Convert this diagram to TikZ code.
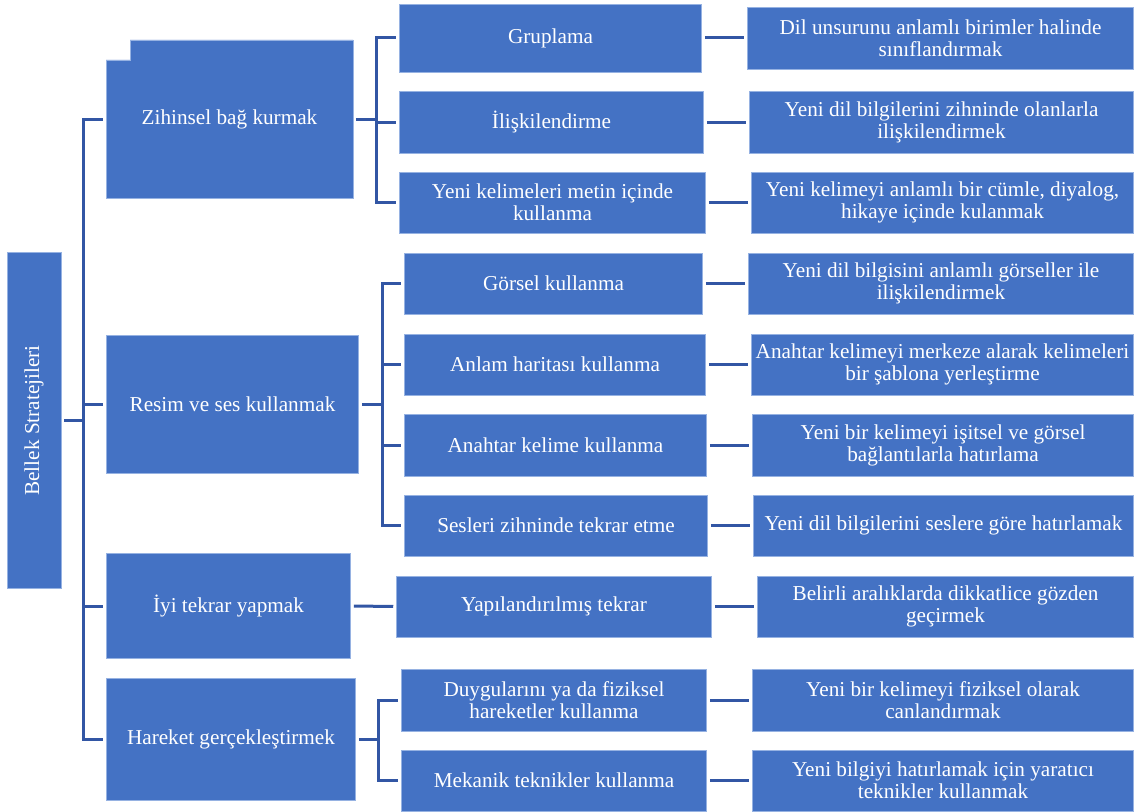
\documentclass[tikz,border=0pt]{standalone}
\usepackage{fontspec}
\usepackage{graphicx}
\setmainfont{Liberation Serif}
\definecolor{boxfill}{HTML}{4472C4}
\definecolor{boxline}{RGB}{150,178,226}
\definecolor{connc}{RGB}{50,86,164}
\tikzset{
  box/.style={fill=boxfill, draw=boxline, line width=0.7bp, text=white,
    font=\fontsize{21.3}{22}\selectfont, align=center, inner sep=0pt},
  conn/.style={draw=connc, line width=3bp, shorten <=3bp, shorten >=3bp},
}
% place a box from corners
\newcommand{\mybox}[6]{%
  \node[box, minimum width={#4-#2}, minimum height={#5-#3}]
    (#1) at ({(#2+#4)/2},{(#3+#5)/2}) {#6};}
\begin{document}
\begin{tikzpicture}[x=1bp,y=-1bp]
\useasboundingbox (0,0) rectangle (1136,812);

% root
\node[box, minimum width=54, minimum height=337] (root) at (34,420.5)
  {\rotatebox{90}{Bellek Stratejileri}};

% level 1
\fill[boxfill] (106,60) -- (130,60) -- (130,40) -- (353,40) -- (353,198) -- (106,198) -- cycle;
\draw[boxline, line width=0.7bp] (106,60) -- (130,60) -- (130,40) -- (353,40) -- (353,198) -- (106,198) -- cycle;
\node[box, fill=none, draw=none, minimum width=247, minimum height=158] (Z) at (229.5,119) {Zihinsel bağ kurmak};
\mybox{R}{106}{335}{359}{474}{Resim ve ses kullanmak}
\mybox{I}{106}{553}{351}{659}{İyi tekrar yapmak}
\mybox{H}{106}{678}{356}{801}{Hareket gerçekleştirmek}

% level 2
\mybox{G1}{399}{4}{702}{72}{Gruplama}
\mybox{G2}{399}{91}{704}{153}{İlişkilendirme}
\mybox{G3}{399}{172}{706}{233}{Yeni kelimeleri metin içinde\\kullanma}
\mybox{R1}{404}{253}{703}{314}{Görsel kullanma}
\mybox{R2}{404}{334}{706}{395}{Anlam haritası kullanma}
\mybox{R3}{404}{414}{707}{476}{Anahtar kelime kullanma}
\mybox{R4}{404}{495}{708}{556}{Sesleri zihninde tekrar etme}
\mybox{Y1}{396}{576}{712}{637}{Yapılandırılmış tekrar}
\mybox{M1}{401}{669}{707}{731}{Duygularını ya da fiziksel\\hareketler kullanma}
\mybox{M2}{401}{750}{707}{811}{Mekanik teknikler kullanma}

% level 3
\mybox{D1}{747}{7}{1134}{69}{Dil unsurunu anlamlı birimler halinde\\sınıflandırmak}
\mybox{D2}{749}{91}{1134}{153}{Yeni dil bilgilerini zihninde olanlarla\\ilişkilendirmek}
\mybox{D3}{751}{172}{1134}{233}{Yeni kelimeyi anlamlı bir cümle, diyalog,\\hikaye içinde kulanmak}
\mybox{E1}{748}{253}{1134}{314}{Yeni dil bilgisini anlamlı görseller ile\\ilişkilendirmek}
\mybox{E2}{751}{334}{1134}{395}{Anahtar kelimeyi merkeze alarak kelimeleri\\bir şablona yerleştirme}
\mybox{E3}{752}{414}{1134}{476}{Yeni bir kelimeyi işitsel ve görsel\\bağlantılarla hatırlama}
\mybox{E4}{753}{495}{1134}{556}{Yeni dil bilgilerini seslere göre hatırlamak}
\mybox{F1}{757}{576}{1134}{637}{Belirli aralıklarda dikkatlice gözden\\geçirmek}
\mybox{N1}{752}{669}{1134}{731}{Yeni bir kelimeyi fiziksel olarak\\canlandırmak}
\mybox{N2}{752}{750}{1134}{811}{Yeni bilgiyi hatırlamak için yaratıcı\\teknikler kullanmak}

% trunk coordinates
\coordinate (t0) at (83,420.5);
\coordinate (tz) at (376,119);
\coordinate (tr) at (382,404.5);
\coordinate (th) at (378,739.5);

% root to level 1
\draw[conn, shorten >=0bp] (root.east) -- (t0);
\draw[conn, shorten <=0bp] (t0) |- (Z.west);
\draw[conn, shorten <=0bp] (t0) |- (R.west);
\draw[conn, shorten <=0bp] (t0) |- (I.west);
\draw[conn, shorten <=0bp] (t0) |- (H.west);

% level 1 to level 2
\draw[conn, shorten >=0bp] (Z.east) -- (tz);
\draw[conn, shorten <=0bp] (tz) |- (G1.west);
\draw[conn, shorten <=0bp] (tz) |- (G2.west);
\draw[conn, shorten <=0bp] (tz) |- (G3.west);
\draw[conn, shorten >=0bp] (R.east) -- (tr);
\draw[conn, shorten <=0bp] (tr) |- (R1.west);
\draw[conn, shorten <=0bp] (tr) |- (R2.west);
\draw[conn, shorten <=0bp] (tr) |- (R3.west);
\draw[conn, shorten <=0bp] (tr) |- (R4.west);
\draw[conn] (I.east) -- (Y1.west);
\draw[conn, shorten >=0bp] (H.east) -- (th);
\draw[conn, shorten <=0bp] (th) |- (M1.west);
\draw[conn, shorten <=0bp] (th) |- (M2.west);

% level 2 to level 3
\draw[conn] (G1.east) -- (D1.west);
\draw[conn] (G2.east) -- (D2.west);
\draw[conn] (G3.east) -- (D3.west);
\draw[conn] (R1.east) -- (E1.west);
\draw[conn] (R2.east) -- (E2.west);
\draw[conn] (R3.east) -- (E3.west);
\draw[conn] (R4.east) -- (E4.west);
\draw[conn] (Y1.east) -- (F1.west);
\draw[conn] (M1.east) -- (N1.west);
\draw[conn] (M2.east) -- (N2.west);
\end{tikzpicture}
\end{document}
